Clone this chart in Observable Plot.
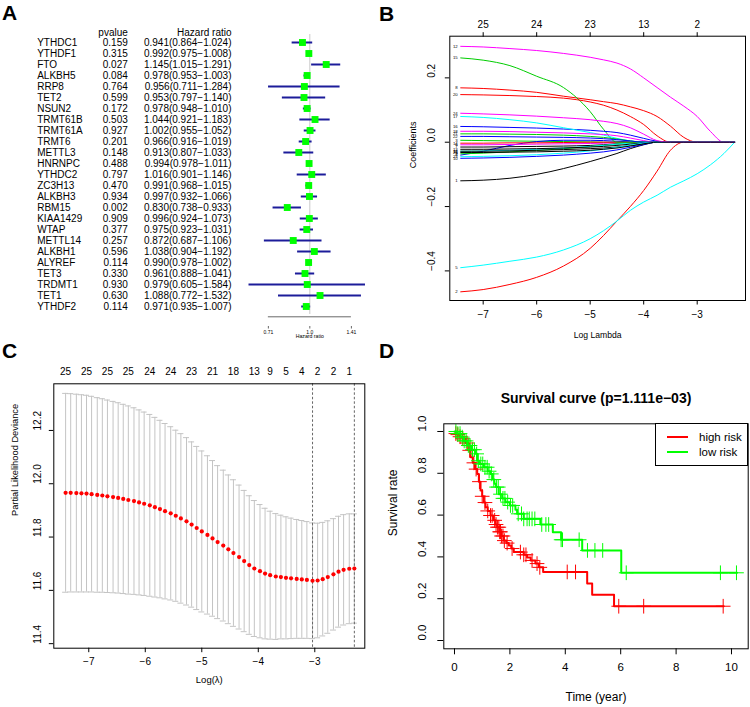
<!DOCTYPE html>
<html><head><meta charset="utf-8">
<script src="https://cdn.jsdelivr.net/npm/d3@7"></script>
<script src="https://cdn.jsdelivr.net/npm/@observablehq/plot@0.6"></script>
<style>
body{margin:0;background:#fff;}
#root{position:relative;width:750px;height:707px;overflow:hidden;background:#fff;font-family:"Liberation Sans",Arial,sans-serif;}
.letter{position:absolute;font-weight:bold;font-size:21px;line-height:1;}
</style></head><body><div id="root"></div>
<script>
// ---------- Panel A data ----------
const genes = ["YTHDC1","YTHDF1","FTO","ALKBH5","RRP8","TET2","NSUN2","TRMT61B","TRMT61A","TRMT6","METTL3","HNRNPC","YTHDC2","ZC3H13","ALKBH3","RBM15","KIAA1429","WTAP","METTL14","ALKBH1","ALYREF","TET3","TRDMT1","TET1","YTHDF2"];
const pvalues = ["0.159","0.315","0.027","0.084","0.764","0.599","0.172","0.503","0.927","0.201","0.148","0.488","0.797","0.470","0.934","0.002","0.909","0.377","0.257","0.596","0.114","0.330","0.930","0.630","0.114"];
const hrs = [0.941,0.992,1.145,0.978,0.956,0.953,0.978,1.044,1.002,0.966,0.913,0.994,1.016,0.991,0.997,0.830,0.996,0.975,0.872,1.038,0.990,0.961,0.979,1.088,0.971];
const hrLow = [0.864,0.975,1.015,0.953,0.711,0.797,0.948,0.921,0.955,0.916,0.807,0.978,0.901,0.968,0.932,0.738,0.924,0.923,0.687,0.904,0.978,0.888,0.605,0.772,0.935];
const hrHigh = [1.024,1.008,1.291,1.003,1.284,1.140,1.010,1.183,1.052,1.019,1.033,1.011,1.146,1.015,1.066,0.933,1.073,1.031,1.106,1.192,1.002,1.041,1.584,1.532,1.007];
const tableHeaders = ["pvalue","Hazard ratio"];
const forestTicks = [0.71, 1.0, 1.41];
const forestTickLabels = ["0.71","1.0","1.41"];

// ---------- Panel B data (coefficient paths vs log lambda) ----------
const lambdaGridB = [-7.42,-7,-6.5,-6,-5.5,-5,-4.75,-4.5,-4.25,-4,-3.75,-3.5,-3.25,-3,-2.75,-2.5,-2.3];
const coefPaths = [
  [-0.120,-0.118,-0.112,-0.100,-0.082,-0.060,-0.048,-0.035,-0.020,-0.008,0,0,0,0,0,0,0],
  [-0.465,-0.458,-0.442,-0.420,-0.385,-0.330,-0.290,-0.245,-0.200,-0.150,-0.090,-0.025,0,0,0,0,0],
  [0.006,0.005,0.004,0.003,0.002,0.001,0,0,0,0,0,0,0,0,0,0,0],
  [-0.040,-0.028,-0.010,0.002,0.006,0.006,0.005,0.003,0.001,0,0,0,0,0,0,0,0],
  [-0.390,-0.382,-0.370,-0.357,-0.335,-0.300,-0.275,-0.245,-0.212,-0.186,-0.165,-0.140,-0.120,-0.098,-0.070,-0.035,0],
  [-0.008,-0.008,-0.007,-0.006,-0.005,-0.004,-0.003,-0.002,0,0,0,0,0,0,0,0,0],
  [-0.015,-0.015,-0.014,-0.013,-0.012,-0.010,-0.008,-0.005,-0.002,0,0,0,0,0,0,0,0],
  [0.169,0.167,0.162,0.155,0.143,0.132,0.126,0.120,0.110,0.098,0.080,0.050,0.015,0,0,0,0],
  [-0.036,-0.034,-0.030,-0.026,-0.020,-0.014,-0.010,-0.006,-0.002,0,0,0,0,0,0,0,0],
  [-0.050,-0.049,-0.047,-0.044,-0.040,-0.034,-0.030,-0.024,-0.016,-0.007,0,0,0,0,0,0,0],
  [-0.028,-0.027,-0.025,-0.022,-0.018,-0.013,-0.010,-0.006,-0.003,0,0,0,0,0,0,0,0],
  [0.298,0.296,0.291,0.285,0.276,0.264,0.256,0.246,0.228,0.200,0.170,0.140,0.112,0.080,0.033,0,0],
  [-0.022,-0.022,-0.021,-0.020,-0.018,-0.015,-0.013,-0.010,-0.006,-0.002,0,0,0,0,0,0,0],
  [-0.003,-0.003,-0.002,-0.002,-0.001,0,0,0,0,0,0,0,0,0,0,0,0],
  [0.262,0.255,0.238,0.205,0.170,0.095,0.040,0,0,0,0,0,0,0,0,0,0],
  [0.049,0.048,0.046,0.044,0.041,0.037,0.034,0.030,0.022,0.012,0.003,0,0,0,0,0,0],
  [0.080,0.077,0.070,0.060,0.045,0.030,0.022,0.012,0.004,0,0,0,0,0,0,0,0],
  [0.034,0.034,0.033,0.031,0.029,0.026,0.024,0.020,0.013,0.005,0,0,0,0,0,0,0],
  [-0.028,-0.028,-0.027,-0.025,-0.023,-0.020,-0.018,-0.015,-0.010,-0.004,0,0,0,0,0,0,0],
  [0.148,0.147,0.145,0.142,0.137,0.125,0.115,0.100,0.080,0.055,0.020,0,0,0,0,0,0],
  [0.026,0.026,0.025,0.024,0.022,0.018,0.015,0.010,0.004,0,0,0,0,0,0,0,0],
  [0.018,0.018,0.017,0.016,0.015,0.013,0.011,0.008,0.004,0,0,0,0,0,0,0,0],
  [-0.045,-0.044,-0.042,-0.039,-0.034,-0.027,-0.022,-0.016,-0.009,-0.003,0,0,0,0,0,0,0],
  [0.090,0.088,0.085,0.081,0.076,0.070,0.065,0.058,0.045,0.025,0.005,0,0,0,0,0,0],
  [-0.032,-0.032,-0.031,-0.030,-0.028,-0.025,-0.022,-0.018,-0.012,-0.005,0,0,0,0,0,0,0]
];
const pathPalette = ["#000000","#ff0000","#00cd00","#0000ff","#00ffff","#ff00ff"];
const bXTicks = [-7,-6,-5,-4,-3];
const bXTickLabels = ["\u22127","\u22126","\u22125","\u22124","\u22123"];
const bTopLabels = ["25","24","23","13","2"];
const bYTicks = [-0.4,-0.2,0,0.2];
const bYTickLabels = ["\u22120.4","\u22120.2","0.0","0.2"];

// ---------- Panel C data (cross-validation) ----------
const cvLambda = [-7.41,-7.32,-7.22,-7.13,-7.04,-6.95,-6.85,-6.76,-6.67,-6.57,
  -6.48,-6.39,-6.30,-6.20,-6.11,-6.02,-5.92,-5.83,-5.74,-5.65,
  -5.55,-5.46,-5.37,-5.27,-5.18,-5.09,-5.00,-4.90,-4.81,-4.72,
  -4.62,-4.53,-4.44,-4.34,-4.25,-4.16,-4.07,-3.97,-3.88,-3.79,
  -3.69,-3.60,-3.51,-3.42,-3.32,-3.23,-3.14,-3.04,-2.95,-2.86,
  -2.77,-2.67,-2.58,-2.49,-2.39,-2.30];
const cvMean = [11.966,11.966,11.965,11.964,11.963,11.961,11.958,11.956,11.953,11.950,
  11.947,11.943,11.939,11.935,11.930,11.925,11.919,11.912,11.905,11.897,
  11.889,11.880,11.870,11.859,11.847,11.834,11.821,11.808,11.795,11.781,
  11.768,11.754,11.740,11.725,11.710,11.695,11.682,11.672,11.663,11.657,
  11.652,11.650,11.647,11.645,11.643,11.641,11.639,11.636,11.637,11.642,
  11.650,11.660,11.670,11.677,11.681,11.682];
const cvSE = [0.373,0.372,0.371,0.370,0.369,0.367,0.365,0.363,0.361,0.359,
  0.357,0.355,0.353,0.350,0.347,0.344,0.341,0.337,0.333,0.329,
  0.325,0.321,0.318,0.314,0.310,0.306,0.302,0.297,0.292,0.287,
  0.283,0.279,0.275,0.270,0.265,0.260,0.255,0.250,0.245,0.240,
  0.236,0.232,0.229,0.226,0.223,0.221,0.219,0.217,0.215,0.213,
  0.211,0.209,0.208,0.207,0.206,0.205];
const cvTopIndex = [0,4,8,12,16,20,24,28,32,36,39,42,45,48,51,54];
const cvTopLabels = ["25","25","25","25","24","24","23","21","18","13","9","5","4","2","2","1"];
const cvLambdaMin = cvLambda[47];
const cvLambda1se = cvLambda[55];
const cXTicks = [-7,-6,-5,-4,-3];
const cXTickLabels = ["\u22127","\u22126","\u22125","\u22124","\u22123"];
const cYTicks = [11.4,11.6,11.8,12.0,12.2];
const cYTickLabels = ["11.4","11.6","11.8","12.0","12.2"];

// ---------- Panel D data (Kaplan-Meier) ----------
const highTime = [0,0.1,0.2,0.3,0.4,0.5,0.58,0.66,0.74,0.82,0.88,0.94,1.0,1.06,1.12,1.2,1.3,1.4,1.48,1.54,1.62,1.7,1.78,1.87,1.96,2.05,2.14,2.5,2.62,2.75,2.92,3.05,3.2,4.79,4.97,5.76,9.72];
const highSurv = [0.99,0.985,0.975,0.965,0.945,0.91,0.877,0.85,0.82,0.797,0.76,0.718,0.69,0.66,0.638,0.62,0.598,0.575,0.555,0.542,0.52,0.5,0.478,0.466,0.455,0.44,0.423,0.41,0.397,0.383,0.368,0.35,0.328,0.273,0.219,0.164,0.164];
const highCensor = [0.05,0.12,0.2,0.3,0.45,0.55,0.7,0.78,0.9,1.0,1.1,1.2,1.3,1.36,1.45,1.5,1.55,1.6,1.63,1.66,1.7,1.75,1.8,1.9,2.08,2.38,2.5,2.58,2.8,2.98,3.08,4.07,4.37,5.93,6.83,9.70];
const lowTime = [0,0.1,0.22,0.34,0.46,0.6,0.76,0.82,0.9,1.06,1.2,1.3,1.38,1.44,1.5,1.6,1.72,1.84,2.0,2.2,2.26,2.5,3.1,3.55,3.85,4.61,6.02,10.2];
const lowSurv = [1.0,0.99,0.973,0.955,0.933,0.913,0.893,0.86,0.845,0.829,0.81,0.797,0.77,0.75,0.734,0.70,0.68,0.662,0.646,0.625,0.606,0.582,0.555,0.518,0.482,0.431,0.324,0.324];
const lowCensor = [0.05,0.12,0.2,0.28,0.35,0.42,0.5,0.56,0.65,0.72,0.8,0.86,0.95,1.02,1.1,1.18,1.25,1.33,1.42,1.52,1.58,1.66,1.75,1.82,1.92,2.02,2.1,2.3,2.42,2.5,2.62,2.7,2.8,2.9,3.15,3.3,3.4,3.85,3.9,4.5,4.8,5.07,5.35,6.2,9.6,10.18];
const dXTicks = [0,2,4,6,8,10];
const dYTicks = [0,0.2,0.4,0.6,0.8,1.0];
const dYTickLabels = ["0.0","0.2","0.4","0.6","0.8","1.0"];
const legendLabels = ["high risk","low risk"];
const legendColors = ["#ff0000","#00ff00"];

// ---------- helpers ----------
const FONT = "'Liberation Sans', Arial, Helvetica, sans-serif";
const root = document.getElementById("root");
function place(el, left, top) {
  el.style.position = "absolute";
  el.style.left = left + "px";
  el.style.top = top + "px";
  el.style.maxWidth = "none";
  root.appendChild(el);
}
function letter(t, left, top) {
  const d = document.createElement("div");
  d.className = "letter"; d.textContent = t;
  d.style.left = left + "px"; d.style.top = top + "px";
  root.appendChild(d);
}
const baseStyle = {fontFamily: FONT, fontSize: "10px", overflow: "visible", background: "transparent", color: "#000"};

// ---------- Panel A ----------
const rowsA = genes.map((g, i) => ({gene: g, p: pvalues[i], hr: hrs[i], lo: hrLow[i], hi: hrHigh[i]}));
const f3 = v => v.toFixed(3);
const yDomainA = ["header", ...genes];
const yRangeA = [21.7, 315.7];
const yScaleA = {type: "point", domain: yDomainA, range: yRangeA, padding: 0, axis: null};

// gene names (left-aligned) and p-values (right-aligned)
const tableA1 = Plot.plot({
  width: 140, height: 345, marginLeft: 36.7, marginRight: 12.7, marginTop: 0, marginBottom: 0, style: baseStyle,
  y: yScaleA,
  marks: [
    Plot.text(rowsA, {frameAnchor: "left", y: "gene", text: "gene", textAnchor: "start", fontSize: 10}),
    Plot.text(rowsA, {frameAnchor: "right", y: "gene", text: "p", textAnchor: "end", fontSize: 10}),
    Plot.text([tableHeaders[0]], {frameAnchor: "right", y: () => "header", textAnchor: "end", dy: 1.5, fontSize: 10})
  ]
});
place(tableA1, 0, 0);

// hazard ratio column (right-aligned)
const tableA2 = Plot.plot({
  width: 110, height: 345, marginLeft: 0, marginRight: 9, marginTop: 0, marginBottom: 0, style: baseStyle,
  y: yScaleA,
  marks: [
    Plot.text(rowsA, {frameAnchor: "right", y: "gene", text: d => `${f3(d.hr)}(${f3(d.lo)}\u2212${f3(d.hi)})`, textAnchor: "end", fontSize: 10}),
    Plot.text([tableHeaders[1]], {frameAnchor: "right", y: () => "header", textAnchor: "end", dy: 1.5, fontSize: 10})
  ]
});
place(tableA2, 130, 0);

const forestA = Plot.plot({
  width: 150, height: 345, marginLeft: 0, marginRight: 0, marginTop: 0, marginBottom: 19, style: baseStyle,
  x: {type: "log", domain: [0.6, 1.6], range: [17.5, 136.2]},
  y: yScaleA,
  marks: [
    Plot.ruleX([1], {y1: () => genes[0], y2: () => genes[genes.length - 1], stroke: "#c9c9c9", strokeWidth: 1, insetTop: -8, insetBottom: -8}),
    Plot.ruleY(rowsA, {y: "gene", x1: "lo", x2: "hi", stroke: "#1c1c9a", strokeWidth: 2}),
    Plot.dot(rowsA, {x: "hr", y: "gene", symbol: "square", fill: "#00ff00", r: 3.9}),
    Plot.ruleY([0], {y: () => genes[genes.length - 1], x1: forestTicks[0], x2: forestTicks[2], dy: 10.3, stroke: "#000", strokeWidth: 0.6}),
    Plot.axisX({ticks: forestTicks, tickFormat: d => forestTickLabels[forestTicks.indexOf(d)], tickSize: 2.5, tickPadding: 1, fontSize: 5, label: null, strokeWidth: 0.6}),
    Plot.text(["Hazard ratio"], {x: () => 1, frameAnchor: "bottom", dy: 11, fontSize: 5.2})
  ]
});
place(forestA, 230, 0);

// ---------- Panel B ----------
const pathMarks = coefPaths.map((vals, k) =>
  Plot.line(lambdaGridB.map((l, j) => ({l, c: vals[j]})), {x: "l", y: "c", stroke: pathPalette[k % 6], strokeWidth: 1, curve: "monotone-x"}));
const pathLabels = coefPaths.map((vals, k) => ({id: String(k + 1), c: vals[0]}));
const plotB = Plot.plot({
  width: 370, height: 345, marginLeft: 69.3, marginRight: 5, marginTop: 35.7, marginBottom: 45, style: baseStyle,
  x: {domain: [-7.624, -2.097]}, y: {domain: [-0.492, 0.3295]},
  marks: [
    ...pathMarks,
    Plot.text(pathLabels, {x: () => lambdaGridB[0], y: "c", text: "id", textAnchor: "end", dx: -3, fontSize: 4.3}),
    Plot.frame({stroke: "#000"}),
    Plot.axisX({ticks: bXTicks, tickSize: 4.5, tickFormat: () => "", label: null}),
    Plot.axisX({anchor: "top", ticks: bXTicks, tickSize: 4.5, tickFormat: () => "", label: null}),
    Plot.axisY({ticks: bYTicks, tickSize: 4.5, tickFormat: () => "", label: null}),
    Plot.text(bXTicks, {x: d => d, frameAnchor: "bottom", dy: 17.3, text: (d, i) => bXTickLabels[i], fontSize: 10}),
    Plot.text(bXTicks, {x: d => d, frameAnchor: "top", dy: -15, text: (d, i) => bTopLabels[i], fontSize: 10}),
    Plot.text(bYTicks, {y: d => d, frameAnchor: "left", dx: -17.6, rotate: -90, text: (d, i) => bYTickLabels[i], fontSize: 10}),
    Plot.text(["Coefficients"], {frameAnchor: "left", dx: -36.3, rotate: -90, fontSize: 9}),
    Plot.text(["Log Lambda"], {frameAnchor: "bottom", dy: 37, fontSize: 8.6})
  ]
});
place(plotB, 380, 0);

// ---------- Panel C ----------
const cv = cvLambda.map((l, i) => ({l, mean: cvMean[i], lo: cvMean[i] - cvSE[i], hi: cvMean[i] + cvSE[i]}));
const plotC = Plot.plot({
  width: 380, height: 362, marginLeft: 53.3, marginRight: 15.7, marginTop: 38.3, marginBottom: 59.3, style: baseStyle,
  x: {domain: [-7.619, -2.115]}, y: {domain: [11.383, 12.375]},
  marks: [
    Plot.ruleX(cv, {x: "l", y1: "lo", y2: "hi", stroke: "#c4c4c4", strokeWidth: 1}),
    Plot.ruleY(cv, {y: "hi", x1: "l", x2: "l", insetLeft: -3, insetRight: -3, stroke: "#c4c4c4", strokeWidth: 1}),
    Plot.ruleY(cv, {y: "lo", x1: "l", x2: "l", insetLeft: -3, insetRight: -3, stroke: "#c4c4c4", strokeWidth: 1}),
    Plot.ruleX([cvLambdaMin, cvLambda1se], {stroke: "#666", strokeWidth: 1, strokeDasharray: "2.5,2"}),
    Plot.dot(cv, {x: "l", y: "mean", fill: "#ff0000", r: 2.1}),
    Plot.frame({stroke: "#000"}),
    Plot.axisX({ticks: cXTicks, tickSize: 4.5, tickFormat: () => "", label: null}),
    Plot.axisY({ticks: cYTicks, tickSize: 4.5, tickFormat: () => "", label: null}),
    Plot.text(cXTicks, {x: d => d, frameAnchor: "bottom", dy: 16.3, text: (d, i) => cXTickLabels[i], fontSize: 10}),
    Plot.text(cvTopIndex, {x: i => cvLambda[i], frameAnchor: "top", dy: -15.6, text: (d, k) => cvTopLabels[k], fontSize: 10}),
    Plot.text(cYTicks, {y: d => d, frameAnchor: "left", dx: -16, rotate: -90, text: (d, i) => cYTickLabels[i], fontSize: 10}),
    Plot.text(["Partial Likelihood Deviance"], {frameAnchor: "left", dx: -38.3, rotate: -90, fontSize: 9.3}),
    Plot.text(["Log(\u03bb)"], {frameAnchor: "bottom", dy: 35, fontSize: 9.5})
  ]
});
place(plotC, 0, 345);

// ---------- Panel D ----------
function survAt(times, survs, t) {
  let s = survs[0];
  for (let i = 0; i < times.length; i++) if (times[i] <= t) s = survs[i];
  return s;
}
const highData = highTime.map((t, i) => ({t, s: highSurv[i]}));
const lowData = lowTime.map((t, i) => ({t, s: lowSurv[i]}));
const highCens = highCensor.map(t => ({t, s: survAt(highTime, highSurv, t)}));
const lowCens = lowCensor.map(t => ({t, s: survAt(lowTime, lowSurv, t)}));
const plotD = Plot.plot({
  width: 370, height: 362, marginLeft: 63.3, marginRight: 2.3, marginTop: 78.3, marginBottom: 58.7, style: baseStyle,
  x: {domain: [-0.386, 10.603]}, y: {domain: [-0.0397, 1.0368]},
  marks: [
    Plot.line(highData, {x: "t", y: "s", curve: "step-after", stroke: legendColors[0], strokeWidth: 2}),
    Plot.dot(highCens, {x: "t", y: "s", symbol: "plus", stroke: legendColors[0], r: 4.8, strokeWidth: 1}),
    Plot.line(lowData, {x: "t", y: "s", curve: "step-after", stroke: legendColors[1], strokeWidth: 2}),
    Plot.dot(lowCens, {x: "t", y: "s", symbol: "plus", stroke: legendColors[1], r: 4.8, strokeWidth: 1}),
    Plot.frame({stroke: "#000"}),
    Plot.axisX({ticks: dXTicks, tickSize: 6, tickFormat: () => "", label: null}),
    Plot.axisY({ticks: dYTicks, tickSize: 6, tickFormat: () => "", label: null}),
    Plot.text(dXTicks, {x: d => d, frameAnchor: "bottom", dy: 21.7, text: d => String(d), fontSize: 11.5}),
    Plot.text(dYTicks, {y: d => d, frameAnchor: "left", dx: -21.6, rotate: -90, text: (d, i) => dYTickLabels[i], fontSize: 11.5}),
    Plot.text(["Survival rate"], {frameAnchor: "left", dx: -50.3, rotate: -90, fontSize: 12}),
    Plot.text(["Time (year)"], {frameAnchor: "bottom", dy: 51.7, fontSize: 12}),
    Plot.text(["Survival curve (p=1.111e\u221203)"], {frameAnchor: "top", dy: -30.3, fontSize: 14, fontWeight: "bold"})
  ]
});
place(plotD, 380, 345);

// legend for D
const leg = document.createElement("div");
leg.style.cssText = "position:absolute;left:655px;top:423px;width:91px;height:41px;border:1px solid #000;background:#fff;";
legendLabels.forEach((lab, i) => {
  const ln = document.createElement("div");
  ln.style.cssText = `position:absolute;left:10.5px;top:${13.3 + i * 14.4 - 1}px;width:21.6px;height:2px;background:${legendColors[i]};`;
  const tx = document.createElement("div");
  tx.style.cssText = `position:absolute;left:43px;top:${13.3 + i * 14.4 - 7}px;font-size:11.5px;line-height:14px;white-space:nowrap;`;
  tx.textContent = lab;
  leg.appendChild(ln); leg.appendChild(tx);
});
root.appendChild(leg);

// panel letters
letter("A", 2, 2);
letter("B", 379, 3);
letter("C", 2, 340);
letter("D", 379, 340);
</script></body></html>
